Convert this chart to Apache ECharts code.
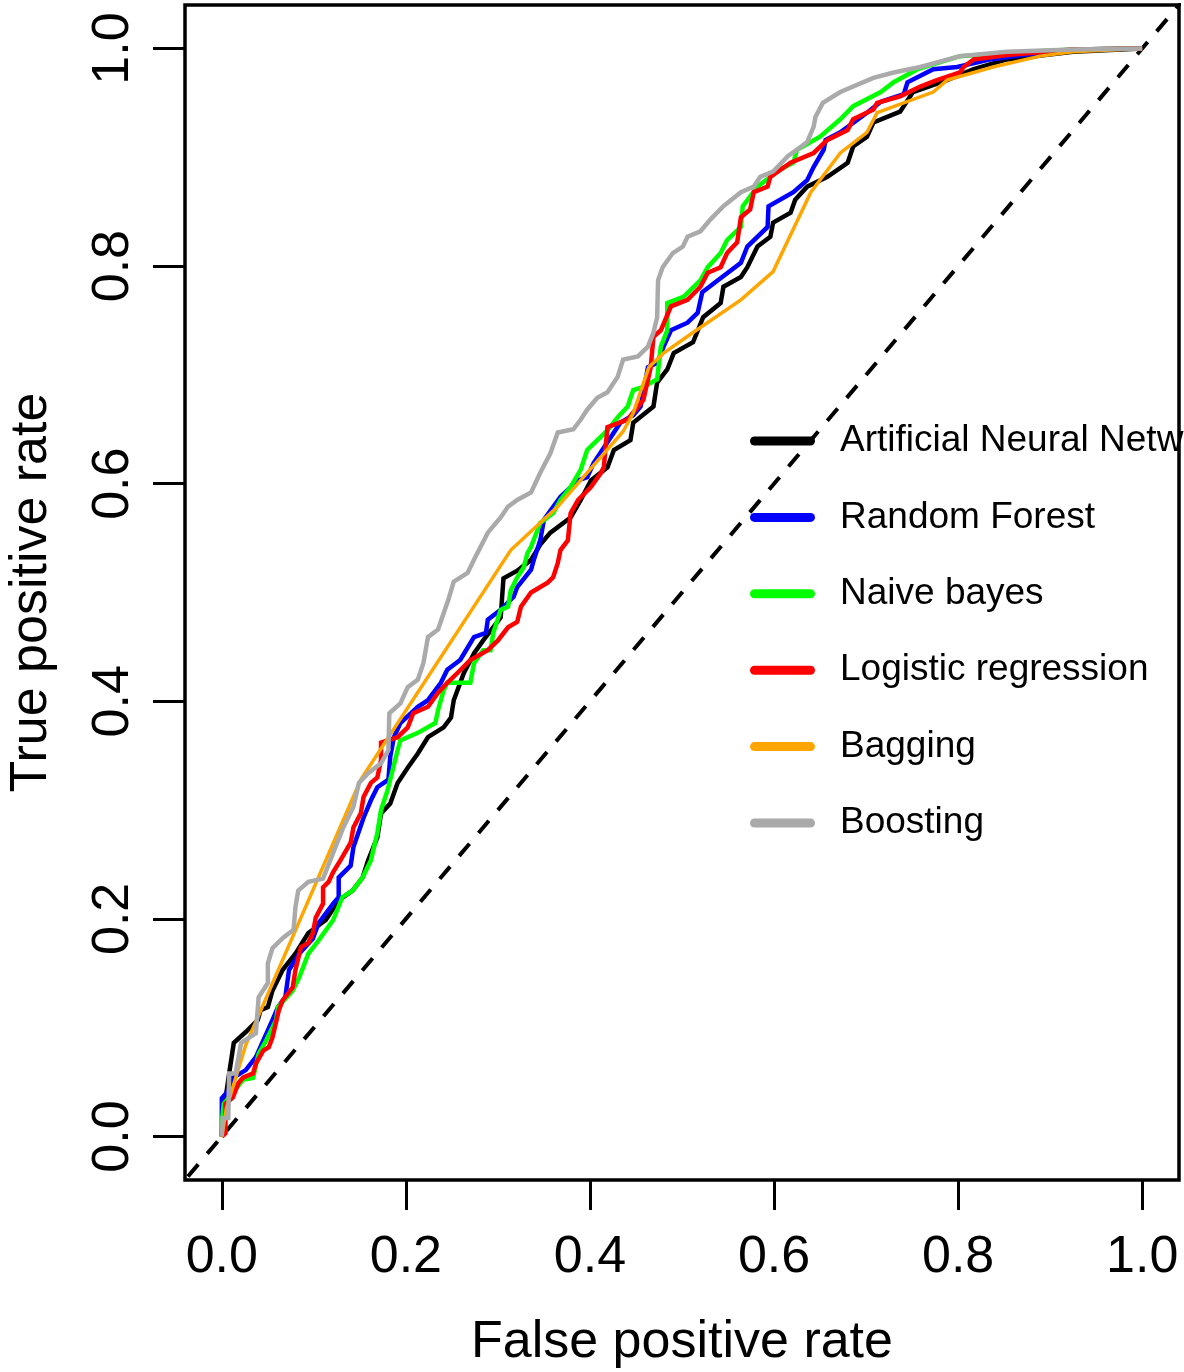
<!DOCTYPE html>
<html>
<head>
<meta charset="utf-8">
<script src="https://cdn.jsdelivr.net/npm/echarts@6/dist/echarts.min.js"></script>
<style>
html,body{margin:0;padding:0;background:#fff;}
#chart{width:1184px;height:1372px;}
</style>
</head>
<body>
<div id="chart"></div>
<script>
// ---- data (FPR, TPR) ----
const seriesNames = ["Artificial Neural Network", "Random Forest", "Naive bayes", "Logistic regression", "Bagging", "Boosting"];
const seriesColors = ["#000000", "#0000FF", "#00FF00", "#FF0000", "#FFA500", "#AAAAAA"];
const tickValues = [0, 0.2, 0.4, 0.6, 0.8, 1.0];
const diagonal = [[-0.1, -0.1], [1.1, 1.1]];

const annPoints = [[0,0],[0.001,0.017],[0.008,0.058],[0.013,0.086],[0.026,0.096],[0.039,0.107],[0.042,0.116],[0.050,0.119],[0.055,0.134],[0.066,0.153],[0.080,0.168],[0.094,0.187],[0.113,0.199],[0.127,0.217],[0.142,0.226],[0.153,0.238],[0.159,0.254],[0.169,0.275],[0.173,0.297],[0.183,0.306],[0.191,0.325],[0.202,0.339],[0.213,0.352],[0.224,0.367],[0.241,0.376],[0.249,0.385],[0.252,0.401],[0.263,0.426],[0.274,0.444],[0.284,0.456],[0.303,0.477],[0.306,0.513],[0.321,0.520],[0.336,0.530],[0.346,0.544],[0.357,0.555],[0.379,0.569],[0.390,0.585],[0.401,0.603],[0.419,0.615],[0.426,0.631],[0.444,0.640],[0.447,0.656],[0.469,0.671],[0.473,0.693],[0.484,0.705],[0.491,0.720],[0.512,0.730],[0.523,0.753],[0.542,0.766],[0.545,0.781],[0.564,0.790],[0.571,0.799],[0.582,0.818],[0.596,0.827],[0.599,0.840],[0.618,0.849],[0.623,0.861],[0.636,0.873],[0.658,0.882],[0.680,0.895],[0.686,0.910],[0.701,0.919],[0.708,0.932],[0.737,0.942],[0.751,0.960],[0.788,0.971],[0.817,0.981],[0.853,0.990],[0.925,0.997],[1,1]];

const rfPoints = [[0,0],[0,0.017],[0,0.035],[0.007,0.042],[0.012,0.054],[0.026,0.061],[0.037,0.073],[0.045,0.088],[0.055,0.107],[0.061,0.119],[0.069,0.128],[0.073,0.153],[0.084,0.168],[0.099,0.182],[0.105,0.196],[0.121,0.214],[0.127,0.220],[0.127,0.238],[0.140,0.249],[0.143,0.266],[0.154,0.293],[0.162,0.309],[0.169,0.321],[0.181,0.328],[0.183,0.349],[0.187,0.367],[0.194,0.380],[0.213,0.395],[0.224,0.401],[0.238,0.417],[0.245,0.429],[0.259,0.438],[0.274,0.459],[0.287,0.463],[0.289,0.475],[0.303,0.484],[0.317,0.496],[0.321,0.505],[0.336,0.521],[0.339,0.530],[0.346,0.548],[0.350,0.567],[0.368,0.588],[0.387,0.603],[0.397,0.606],[0.404,0.619],[0.419,0.638],[0.433,0.656],[0.447,0.663],[0.455,0.671],[0.463,0.707],[0.473,0.711],[0.480,0.726],[0.488,0.741],[0.506,0.748],[0.517,0.757],[0.522,0.776],[0.539,0.787],[0.564,0.803],[0.571,0.818],[0.593,0.836],[0.594,0.855],[0.621,0.868],[0.636,0.879],[0.643,0.891],[0.654,0.907],[0.656,0.916],[0.672,0.923],[0.701,0.941],[0.716,0.951],[0.741,0.958],[0.745,0.969],[0.773,0.981],[0.799,0.983],[0.835,0.990],[0.871,0.994],[0.925,0.999],[1,1]];

const nbPoints = [[0,0],[0,0.012],[0.002,0.030],[0.008,0.036],[0.023,0.052],[0.034,0.054],[0.040,0.076],[0.048,0.088],[0.059,0.107],[0.061,0.119],[0.077,0.134],[0.084,0.146],[0.094,0.168],[0.105,0.180],[0.121,0.199],[0.131,0.220],[0.142,0.226],[0.153,0.238],[0.162,0.254],[0.169,0.279],[0.173,0.300],[0.180,0.318],[0.191,0.355],[0.194,0.364],[0.213,0.371],[0.232,0.380],[0.235,0.392],[0.241,0.410],[0.245,0.417],[0.270,0.417],[0.274,0.435],[0.284,0.447],[0.292,0.447],[0.295,0.463],[0.303,0.484],[0.311,0.487],[0.314,0.502],[0.321,0.514],[0.328,0.523],[0.332,0.536],[0.336,0.542],[0.346,0.564],[0.360,0.573],[0.368,0.585],[0.379,0.597],[0.390,0.613],[0.397,0.631],[0.408,0.640],[0.419,0.649],[0.430,0.661],[0.441,0.671],[0.447,0.686],[0.458,0.689],[0.473,0.696],[0.477,0.726],[0.484,0.741],[0.484,0.766],[0.502,0.772],[0.520,0.787],[0.528,0.799],[0.542,0.812],[0.549,0.824],[0.564,0.836],[0.566,0.855],[0.582,0.873],[0.607,0.889],[0.621,0.895],[0.625,0.907],[0.650,0.919],[0.672,0.935],[0.686,0.947],[0.716,0.960],[0.730,0.969],[0.756,0.981],[0.802,0.993],[0.853,0.996],[0.925,0.999],[1,1]];

const lrPoints = [[0,0],[0.004,0.003],[0.004,0.030],[0.012,0.036],[0.018,0.049],[0.023,0.054],[0.034,0.058],[0.037,0.067],[0.045,0.079],[0.051,0.082],[0.055,0.091],[0.062,0.116],[0.066,0.125],[0.077,0.137],[0.080,0.153],[0.086,0.174],[0.094,0.178],[0.099,0.187],[0.102,0.201],[0.110,0.214],[0.110,0.229],[0.116,0.234],[0.121,0.243],[0.129,0.254],[0.140,0.270],[0.143,0.284],[0.151,0.297],[0.154,0.312],[0.162,0.325],[0.169,0.330],[0.173,0.346],[0.173,0.362],[0.191,0.367],[0.202,0.376],[0.208,0.389],[0.224,0.395],[0.235,0.408],[0.245,0.417],[0.256,0.426],[0.270,0.438],[0.289,0.447],[0.300,0.456],[0.311,0.468],[0.321,0.473],[0.325,0.487],[0.336,0.500],[0.354,0.509],[0.360,0.514],[0.365,0.527],[0.368,0.539],[0.376,0.548],[0.379,0.573],[0.387,0.585],[0.401,0.597],[0.412,0.610],[0.415,0.615],[0.419,0.652],[0.441,0.659],[0.458,0.677],[0.466,0.707],[0.469,0.735],[0.477,0.741],[0.488,0.763],[0.506,0.769],[0.520,0.781],[0.528,0.794],[0.542,0.799],[0.549,0.812],[0.560,0.822],[0.564,0.845],[0.574,0.852],[0.578,0.868],[0.593,0.873],[0.596,0.882],[0.618,0.895],[0.643,0.904],[0.658,0.916],[0.680,0.925],[0.686,0.935],[0.708,0.944],[0.712,0.950],[0.737,0.956],[0.759,0.965],[0.777,0.971],[0.802,0.978],[0.806,0.983],[0.817,0.990],[0.853,0.994],[0.925,0.999],[1,1]];

const bagPoints = [[0,0],[0.005,0.026],[0.026,0.084],[0.151,0.328],[0.314,0.539],[0.365,0.579],[0.436,0.648],[0.447,0.665],[0.464,0.707],[0.480,0.720],[0.512,0.739],[0.564,0.769],[0.599,0.795],[0.640,0.868],[0.672,0.904],[0.701,0.923],[0.712,0.941],[0.773,0.960],[0.788,0.971],[0.838,0.983],[0.889,0.993],[0.925,0.997],[1,1]];

const boostPoints = [[0,0],[0.001,0.017],[0.007,0.017],[0.008,0.058],[0.015,0.058],[0.021,0.086],[0.037,0.095],[0.040,0.128],[0.050,0.141],[0.050,0.159],[0.055,0.173],[0.067,0.183],[0.078,0.190],[0.080,0.211],[0.083,0.226],[0.094,0.234],[0.110,0.237],[0.122,0.263],[0.132,0.284],[0.143,0.303],[0.149,0.325],[0.159,0.334],[0.173,0.343],[0.181,0.355],[0.182,0.389],[0.194,0.398],[0.202,0.413],[0.213,0.420],[0.219,0.435],[0.224,0.459],[0.235,0.466],[0.241,0.481],[0.246,0.493],[0.252,0.510],[0.267,0.518],[0.274,0.530],[0.289,0.555],[0.303,0.569],[0.311,0.579],[0.321,0.585],[0.336,0.592],[0.346,0.610],[0.357,0.628],[0.365,0.647],[0.382,0.650],[0.390,0.659],[0.397,0.668],[0.408,0.679],[0.419,0.684],[0.430,0.698],[0.436,0.714],[0.452,0.717],[0.463,0.726],[0.469,0.739],[0.473,0.753],[0.474,0.787],[0.479,0.799],[0.490,0.812],[0.501,0.818],[0.506,0.827],[0.520,0.832],[0.531,0.843],[0.545,0.855],[0.564,0.868],[0.578,0.873],[0.585,0.882],[0.599,0.887],[0.615,0.901],[0.625,0.907],[0.636,0.914],[0.643,0.928],[0.645,0.937],[0.653,0.950],[0.672,0.960],[0.708,0.973],[0.730,0.978],[0.759,0.983],[0.802,0.993],[0.853,0.997],[0.925,0.999],[1,1]];

const allPoints = [annPoints, rfPoints, nbPoints, lrPoints, bagPoints, boostPoints];
const lineWidths = [4.5, 4.5, 4.5, 4.5, 3.5, 4.5];

const FONT = "'Liberation Sans', Arial, Helvetica, sans-serif";
const capsule = 'path://M4.5,0 H60.5 A4.5,4.5 0 0 1 60.5,9 H4.5 A4.5,4.5 0 0 1 4.5,0 Z';

const chart = echarts.init(document.getElementById('chart'), null, {renderer: 'canvas'});

const series = [{
  name: 'diag',
  type: 'line',
  data: diagonal,
  symbol: 'none',
  silent: true,
  lineStyle: {color: '#000', width: 4, type: [16, 14]},
  z: 1
}];
allPoints.forEach((pts, i) => {
  series.push({
    name: seriesNames[i],
    type: 'line',
    data: pts,
    symbol: 'none',
    smooth: false,
    lineStyle: {color: seriesColors[i], width: lineWidths[i], join: 'miter'},
    itemStyle: {color: seriesColors[i]},
    z: 2 + i
  });
});

chart.setOption({
  animation: false,
  backgroundColor: '#fff',
  textStyle: {fontFamily: FONT},
  grid: {left: 185, right: 5, top: 5, bottom: 192, show: true, borderColor: '#000', borderWidth: 3.5, containLabel: false, outerBoundsMode: 'none', backgroundColor: 'transparent'},
  legend: {
    data: seriesNames.map((n, i) => ({name: n, icon: capsule, itemStyle: {color: seriesColors[i]}})),
    orient: 'vertical',
    left: 750,
    top: 421,
    padding: 0,
    itemWidth: 65,
    itemHeight: 9,
    itemGap: 36.4,
    selectedMode: false,
    textStyle: {fontSize: 37, color: '#000', fontFamily: FONT, lineHeight: 40, padding: [0, 0, 0, 20]}
  },
  xAxis: {
    type: 'value', min: -0.04, max: 1.04,
    splitLine: {show: false},
    axisLine: {show: false, onZero: false},
    axisTick: {show: true, customValues: tickValues, length: 30, inside: false, lineStyle: {color: '#000', width: 3}},
    axisLabel: {customValues: tickValues, formatter: v => v.toFixed(1), fontSize: 52, color: '#000', margin: 52, fontFamily: FONT},
    name: 'False positive rate', nameLocation: 'middle', nameGap: 137,
    nameTextStyle: {fontSize: 52, color: '#000', fontFamily: FONT}
  },
  yAxis: {
    type: 'value', min: -0.04, max: 1.04,
    splitLine: {show: false},
    axisLine: {show: false, onZero: false},
    axisTick: {show: true, customValues: tickValues, length: 32, inside: false, lineStyle: {color: '#000', width: 3}},
    axisLabel: {customValues: tickValues, formatter: v => v.toFixed(1), fontSize: 52, color: '#000', margin: 45, rotate: 90, fontFamily: FONT},
    name: 'True positive rate', nameLocation: 'middle', nameGap: 127, nameRotate: 90,
    nameTextStyle: {fontSize: 52, color: '#000', fontFamily: FONT}
  },
  series: series
});
</script>
</body>
</html>
